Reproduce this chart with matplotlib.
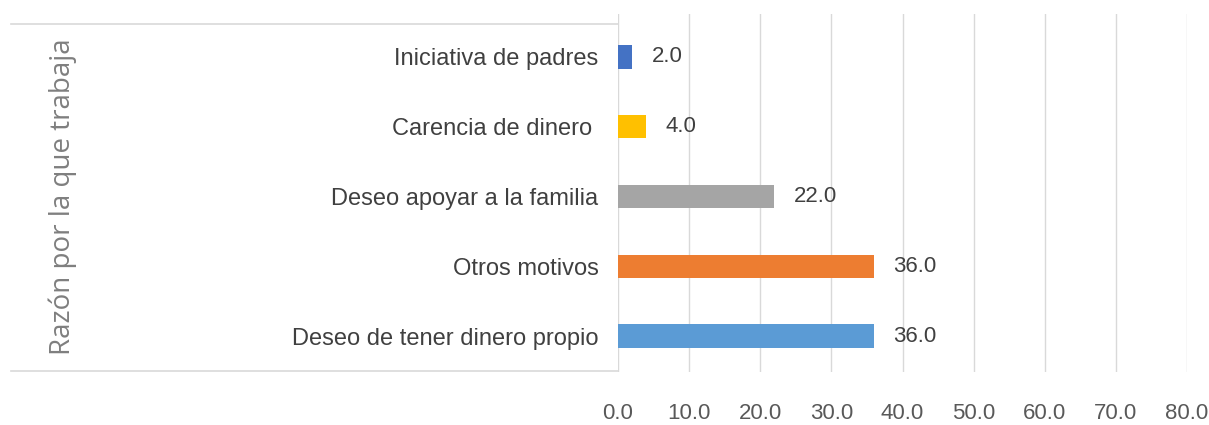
import numpy as np
import matplotlib.pyplot as plt
from matplotlib.lines import Line2D

# data, top to bottom as in the chart
categorias = ['Iniciativa de padres', 'Carencia de dinero ', 'Deseo apoyar a la familia',
              'Otros motivos', 'Deseo de tener dinero propio']
porcentajes = [2.0, 4.0, 22.0, 36.0, 36.0]
colores = ['#4472C4', '#FFC000', '#A5A5A5', '#ED7D31', '#5B9BD5']
xticks = [0, 10, 20, 30, 40, 50, 60, 70, 80]
ylabel = 'Razón por la que trabaja'

plt.rcParams['font.family'] = ['Liberation Sans', 'DejaVu Sans']

fig = plt.figure(figsize=(12.09, 4.25), dpi=100)
ax = fig.add_axes([618 / 1209, 1 - 372 / 425, 569 / 1209, 358 / 425])

pos = np.arange(len(categorias))
bars = ax.barh(pos, porcentajes, height=0.33, color=colores, zorder=3)
ax.bar_label(bars, labels=[f'{v:.1f}' for v in porcentajes], padding=14,
             fontsize=16, color='#404040')

ax.set_xlim(0, 80)
ax.set_ylim(4 + 36 / 69.75, -43 / 69.75)
ax.set_xticks(xticks)
ax.set_xticklabels([f'{t:.1f}' for t in xticks])
ax.set_yticks(pos)
ax.set_yticklabels(categorias)
ax.tick_params(axis='x', length=0, pad=22, labelsize=16, labelcolor='#595959')
ax.tick_params(axis='y', length=0, pad=14, labelsize=17, labelcolor='#404040')
ax.grid(axis='x', color='#D9D9D9', linewidth=1, zorder=0)
for s in ax.spines.values():
    s.set_visible(False)

# light frame round the category area
for yy in (1 - 24 / 425, 1 - 371 / 425):
    fig.add_artist(Line2D([11 / 1209, 618 / 1209], [yy, yy], color='#D9D9D9', lw=1.2))

fig.text(63 / 1209, 1 - 197 / 425, ylabel, rotation=90, ha='center', va='center',
         fontsize=20, color='#7F7F7F', family=['Open Sans', 'DejaVu Sans'])

fig.savefig('out.png', dpi=100)
